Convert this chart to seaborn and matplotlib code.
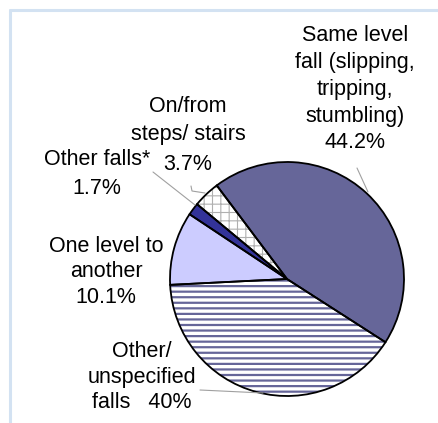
import matplotlib
matplotlib.use("Agg")
import matplotlib.pyplot as plt
from matplotlib.lines import Line2D
import seaborn as sns

# Falls by mechanism (share of all falls, %)
categories = [
    "Same level\nfall (slipping,\ntripping,\nstumbling)",
    "On/from\nsteps/ stairs",
    "Other falls*",
    "One level to\nanother",
    "Other/\nunspecified\nfalls",
]
shares = [44.2, 3.7, 1.7, 10.1, 40.0]
value_labels = ["44.2%", "3.7%", "1.7%", "10.1%", "40%"]
label_joiners = ["\n", "\n", "\n", "\n", "   "]

sns.set_style("white")
plt.rcParams["font.family"] = ["Liberation Sans", "DejaVu Sans"]
plt.rcParams["hatch.linewidth"] = 1.6

W, H = 439, 423
fig = plt.figure(figsize=(W / 100, H / 100), dpi=100)
fig.patch.set_facecolor("white")


def fx(px):
    return px / W


def fy(py):
    return 1 - py / H


# pie placement in pixels
cx, cy, r = 287, 279, 117
ax = fig.add_axes([fx(cx - r), (H - cy - r) / H, 2 * r / W, 2 * r / H])

slate = "#666699"
colors = [slate, "white", "#333399", "#ccccff", "white"]
wedges, _ = ax.pie(shares, colors=colors, startangle=-32.7, counterclock=True,
                   normalize=True, wedgeprops=dict(linewidth=0))

# stair slice: grey grid
wedges[1].set_hatch("++")
wedges[1].set_edgecolor("#b0b0b0")
# unspecified slice: horizontal stripes
wedges[4].set_hatch("---")
wedges[4].set_edgecolor(slate)
if hasattr(wedges[1], "set_hatch_linewidth"):
    wedges[4].set_hatch_linewidth(1.6)
    wedges[1].set_hatch_linewidth(0.8)

# black outlines on top
ax.pie(shares, startangle=-32.7, counterclock=True, normalize=True,
       wedgeprops=dict(fill=False, edgecolor="black", linewidth=1.3))
ax.set_xlim(-1, 1)
ax.set_ylim(-1, 1)
ax.set_axis_off()

# labels, one text per line: centre x and the baseline of every line
label_x = [355, 188, 97, 106, 142]
label_baselines = [
    [41, 68, 95, 122, 148],
    [112, 140, 170],
    [165, 194],
    [252, 277, 303],
    [357, 383, 408],
]
for cat, val, join, x, bases in zip(categories, value_labels, label_joiners,
                                    label_x, label_baselines):
    lines = (cat + join + val).split("\n")
    for line, yb in zip(lines, bases):
        fig.text(fx(x), fy(yb), line, ha="center", va="baseline",
                 fontsize=15.5, color="black")

# leader lines
leaders = [
    [(357, 168), (368, 192)],
    [(191, 186), (192, 191), (205, 193)],
    [(153, 172), (195, 205)],
    [(200, 390), (263, 393)],
]
for pts in leaders:
    xs = [fx(p[0]) for p in pts]
    ys = [fy(p[1]) for p in pts]
    fig.add_artist(Line2D(xs, ys, color="#a0a0a0", linewidth=0.8))

# light frame along the top and left
frame_c = "#d3e2f2"
fig.add_artist(Line2D([fx(10), fx(10)], [fy(10), fy(H + 2)], color=frame_c, linewidth=2.2))
fig.add_artist(Line2D([fx(10), fx(W + 2)], [fy(10), fy(10)], color=frame_c, linewidth=2.2))

fig.savefig("out.png", dpi=100, facecolor="white")
